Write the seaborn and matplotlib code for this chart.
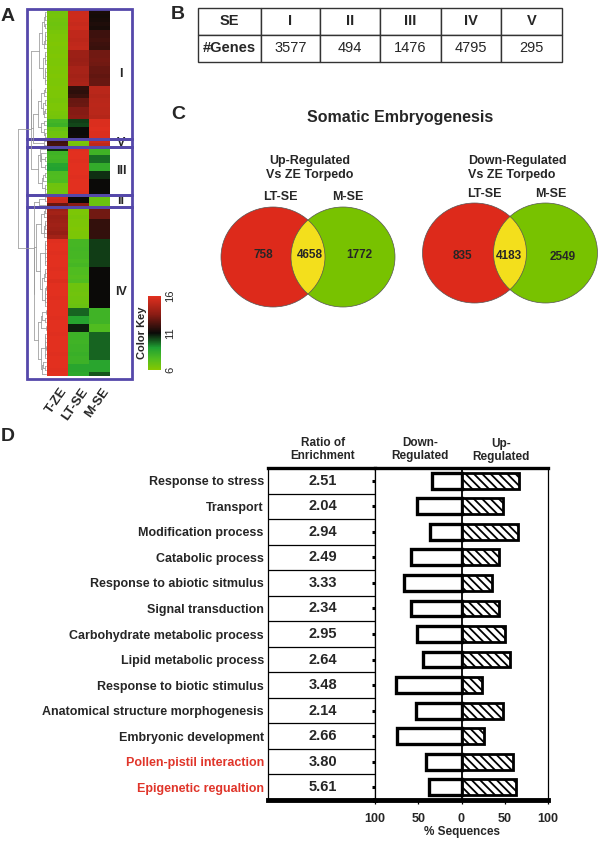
import numpy as np
import pandas as pd
import matplotlib
matplotlib.use("Agg")
import matplotlib.pyplot as plt
import seaborn as sns
from matplotlib.colors import LinearSegmentedColormap
from matplotlib.patches import Rectangle, Ellipse

sns.set_style("white")
plt.rcParams["font.family"] = ["Liberation Sans", "DejaVu Sans"]
plt.rcParams["hatch.linewidth"] = 1.3

# ---------------- Panel A data ----------------
samples = ["T-ZE", "LT-SE", "M-SE"]
cluster_names = ["I", "V", "III", "II", "IV"]
cluster_sizes = [32, 2, 12, 3, 42]
tze = [6.6, 6.5, 6.6, 6.7, 6.6, 6.4, 6.3, 6.3, 6.2, 6.3,
       6.3, 6.2, 6.3, 6.3, 6.2, 6.3, 6.2, 6.3, 6.3, 6.2,
       6.3, 6.3, 6.4, 6.3, 6.3, 6.4, 6.5, 7.9, 8.1, 6.9,
       6.7, 6.6,
       12.0, 12.2,
       10.5, 8.0, 7.9, 8.0, 8.8, 8.9, 7.6, 7.5, 7.6, 6.7, 6.6, 6.6,
       15.5, 15.3, 12.8,
       14.0, 14.2, 13.9, 14.0, 14.1, 14.0, 13.8, 14.2, 15.9, 16.0,
       16.0, 15.9, 16.0, 16.0, 16.0, 15.9, 16.0, 16.0, 15.8, 16.0,
       16.0, 16.0, 15.9, 16.0, 16.0, 16.0, 16.0, 15.9, 16.0, 16.0,
       16.0, 15.9, 16.0, 16.0, 16.0, 16.0, 15.9, 16.0, 16.0, 16.0,
       15.9, 16.0]
ltse = [15.3, 15.4, 15.3, 15.2, 15.3, 15.0, 15.0, 14.9, 15.0, 15.1,
        14.0, 14.0, 13.9, 14.0, 14.3, 14.3, 14.2, 14.3, 14.4, 11.8,
        11.7, 11.9, 12.8, 12.9, 13.4, 13.4, 13.5, 10.3, 10.2, 11.0,
        11.0, 11.1,
        6.3, 6.5,
        15.9, 16.0, 16.0, 15.9, 16.0, 16.0, 16.0, 15.9, 16.0, 16.0, 16.0, 15.9,
        11.0, 11.0, 13.5,
        6.3, 6.3, 6.4, 6.3, 6.3, 6.2, 6.3, 6.3, 7.8, 7.8,
        7.9, 7.8, 7.8, 7.7, 7.8, 7.5, 7.5, 7.4, 7.5, 6.7,
        6.7, 6.6, 6.7, 6.7, 6.8, 9.8, 9.8, 8.8, 8.8, 10.7,
        10.7, 8.1, 8.1, 8.0, 8.1, 8.1, 8.2, 8.1, 8.1, 8.7,
        8.7, 8.6]
mse = [11.3, 11.2, 11.3, 11.4, 11.3, 12.0, 12.0, 12.1, 12.0, 11.9,
       13.0, 13.0, 13.1, 13.0, 12.8, 12.8, 12.7, 12.8, 12.8, 14.8,
       14.8, 14.7, 14.8, 14.9, 14.8, 14.8, 14.7, 15.8, 15.8, 15.9,
       15.8, 15.8,
       15.3, 15.0,
       8.0, 8.0, 9.7, 9.7, 8.4, 8.4, 10.5, 10.5, 11.0, 11.0, 11.0, 11.0,
       6.8, 6.8, 6.8,
       13.0, 13.0, 13.0, 11.8, 11.8, 11.8, 11.8, 11.8, 10.3, 10.3,
       10.3, 10.3, 10.3, 10.3, 10.3, 11.0, 11.0, 11.0, 11.0, 11.0,
       11.0, 11.0, 11.0, 11.0, 11.0, 8.0, 8.0, 8.0, 8.0, 7.5,
       7.5, 9.8, 9.8, 9.8, 9.8, 9.8, 9.8, 9.8, 8.7, 8.7,
       8.7, 10.0]
color_key_ticks = [16, 11, 6]

# ---------------- Panel B data ----------------
table_header = ["SE", "I", "II", "III", "IV", "V"]
table_genes = ["#Genes", "3577", "494", "1476", "4795", "295"]

# ---------------- Panel C data ----------------
venn_title = "Somatic Embryogenesis"
venn_subtitles = ["Up-Regulated\nVs ZE Torpedo", "Down-Regulated\nVs ZE Torpedo"]
venn_sets = ["LT-SE", "M-SE"]
venn_only_lt = [758, 835]
venn_shared = [4658, 4183]
venn_only_m = [1772, 2549]

# ---------------- Panel D data ----------------
categories = ["Response to stress", "Transport", "Modification process",
              "Catabolic process", "Response to abiotic sitmulus",
              "Signal transduction", "Carbohydrate metabolic process",
              "Lipid metabolic process", "Response to biotic stimulus",
              "Anatomical structure morphogenesis", "Embryonic development",
              "Pollen-pistil interaction", "Epigenetic regualtion"]
ratios = [2.51, 2.04, 2.94, 2.49, 3.33, 2.34, 2.95, 2.64, 3.48, 2.14, 2.66, 3.80, 5.61]
down_pct = [34, 52, 36, 58, 66, 58, 51, 44, 76, 53, 75, 41, 38]
up_pct = [67, 48, 65, 43, 35, 43, 50, 56, 24, 48, 26, 60, 63]
highlight = ["Pollen-pistil interaction", "Epigenetic regualtion"]
x_ticks = [-100, -50, 0, 50, 100]
x_ticklabels = ["100", "50", "0", "50", "100"]

# ---------------- figure ----------------
W, H = 600, 841
fig = plt.figure(figsize=(W / 100, H / 100), dpi=100)


def px(x0, y0, x1, y1):
    return [x0 / W, 1 - y1 / H, (x1 - x0) / W, (y1 - y0) / H]


BOX = "#5548aa"
RED = "#dd2a1b"
GREEN = "#78c200"
YELLOW = "#f3df1c"

# ---- Panel A heatmap ----
cmap = LinearSegmentedColormap.from_list(
    "gk", [(0, "#86c800"), (0.15, "#50bc20"), (0.3, "#1fa032"),
           (0.5, "#0a0a08"), (0.75, "#8a1c14"), (1, "#e2301f")])
df = pd.DataFrame({samples[0]: tze, samples[1]: ltse, samples[2]: mse})
N = len(df)
top_px, bot_px = 10, 376
rowh = (bot_px - top_px) / N

ax_h = fig.add_axes(px(27, top_px, 132, bot_px))
cax = fig.add_axes(px(148, 296, 161, 370))
sns.heatmap(df, ax=ax_h, cmap=cmap, vmin=6, vmax=16, cbar_ax=cax,
            xticklabels=False, yticklabels=False)
colw = 21.0
xl0 = -(47 - 27) / colw
xl1 = 3 + (132 - 110) / colw
ax_h.set_xlim(xl0, xl1)
ax_h.set_ylim(N, 0)
for s in ax_h.spines.values():
    s.set_visible(False)
ax_h.set_xlabel("")
ax_h.set_ylabel("")
cbar = ax_h.collections[0].colorbar
cbar.outline.set_visible(False)
cbar.set_ticks([])

bounds = np.cumsum([0] + cluster_sizes)
for i, name in enumerate(cluster_names):
    y0 = bounds[i]
    y1 = bounds[i + 1]
    if i == 0:
        y0 = y0 - 1.0 / rowh
    if i == len(cluster_names) - 1:
        y1 = y1 + 3.0 / rowh
    ax_h.add_patch(Rectangle((xl0, y0), xl1 - xl0, y1 - y0, fill=False,
                             edgecolor=BOX, lw=2.0, clip_on=False, zorder=5))
    ax_h.text(xl0 + (121 - 27) / colw, (bounds[i] + bounds[i + 1]) / 2, name,
              ha="center", va="center", fontsize=9, fontweight="bold")

# overlay axes in pixel coords
ov = fig.add_axes([0, 0, 1, 1])
ov.set_xlim(0, W)
ov.set_ylim(H, 0)
ov.axis("off")
ov.set_facecolor("none")

# dendrogram (sequential Ward-like merging of adjacent rows)
M = df.values.astype(float)
clus = [dict(c=k + 0.5, h=0.0, v=M[k].copy(), n=1) for k in range(N)]
segs = []
while len(clus) > 1:
    d = []
    for i in range(len(clus) - 1):
        a, b = clus[i], clus[i + 1]
        d.append(np.linalg.norm(a["v"] - b["v"]) * np.sqrt(a["n"] * b["n"] / (a["n"] + b["n"])))
    i = int(np.argmin(d))
    a, b = clus[i], clus[i + 1]
    h = max(d[i], a["h"], b["h"]) + 1e-6
    segs.append((a["h"], h, a["c"], b["c"], b["h"]))
    clus[i:i + 2] = [dict(c=(a["c"] + b["c"]) / 2, h=h,
                          v=(a["v"] * a["n"] + b["v"] * b["n"]) / (a["n"] + b["n"]),
                          n=a["n"] + b["n"])]
hmax = max(s[1] for s in segs)


def xmap(hv):
    return 46 - 28 * (hv / hmax) ** 0.5


def ymap(c):
    return top_px + rowh * c


DC = "#999999"
for ha_, h, ca, cb, hb in segs:
    ov.plot([xmap(ha_), xmap(h)], [ymap(ca), ymap(ca)], color=DC, lw=0.55)
    ov.plot([xmap(hb), xmap(h)], [ymap(cb), ymap(cb)], color=DC, lw=0.55)
    ov.plot([xmap(h), xmap(h)], [ymap(ca), ymap(cb)], color=DC, lw=0.55)

# sample labels
for j, s in enumerate(samples):
    ov.text(47 + colw * (j + 1) - 3, 389, s, rotation=55, ha="right", va="center",
            rotation_mode="anchor", fontsize=9.5, fontweight="bold")

# color key labels
for t in color_key_ticks:
    ov.text(170, 370 - (t - 6) / 10 * 74, str(t), rotation=90, ha="center",
            va="center", fontsize=8)
ov.text(142, 333, "Color Key", rotation=90, ha="center", va="center",
        fontsize=8, fontweight="bold")

# panel letters
for lab, (x, y) in zip("ABCD", [(1, 20.5), (171, 19), (171, 118.5), (1, 440.5)]):
    ov.text(x, y, lab, fontsize=14, fontweight="bold", va="baseline", ha="left")

# ---- Panel B table ----
ax_t = fig.add_axes(px(198, 8, 562, 62))
ax_t.axis("off")
colw_t = np.array([63, 59, 60, 61, 60, 61], dtype=float)
tbl = ax_t.table(cellText=[table_header, table_genes], colWidths=list(colw_t / colw_t.sum()),
                 cellLoc="center", bbox=[0, 0, 1, 1])
tbl.auto_set_font_size(False)
tbl.set_fontsize(10.5)
for (r, c), cell in tbl.get_celld().items():
    cell.set_linewidth(1.0)
    cell.set_edgecolor("#333333")
    if r == 0 or c == 0:
        cell.get_text().set_fontweight("bold")

# ---- Panel C venn ----
ax_v = fig.add_axes(px(200, 100, 600, 320))
ax_v.set_xlim(200, 600)
ax_v.set_ylim(320, 100)
ax_v.axis("off")
ax_v.text(400, 117, venn_title, ha="center", va="center", fontsize=11.5, fontweight="bold")
venn_geo = [dict(cr=(273, 257), cg=(343, 257), sub=(310, 168), ha="center", subx=310,
                 lt=(280, 197), m=(347.5, 197), nums=[(263, 255), (309.5, 255), (359, 255)]),
            dict(cr=(474.5, 253), cg=(545.5, 253), sub=(468, 168), ha="left", subx=468,
                 lt=(484, 194), m=(551, 194), nums=[(462, 256), (509, 256), (563, 257)])]
for i, g in enumerate(venn_geo):
    red = Ellipse(g["cr"], 104, 100, facecolor=RED, edgecolor="none")
    grn = Ellipse(g["cg"], 104, 100, facecolor=GREEN, edgecolor="none")
    ax_v.add_patch(red)
    ax_v.add_patch(grn)
    yel = Ellipse(g["cg"], 104, 100, facecolor=YELLOW, edgecolor="none")
    ax_v.add_patch(yel)
    yel.set_clip_path(red)
    ax_v.add_patch(Ellipse(g["cr"], 104, 100, fill=False, edgecolor="#555555", lw=0.5))
    ax_v.add_patch(Ellipse(g["cg"], 104, 100, fill=False, edgecolor="#555555", lw=0.5))
    ax_v.text(g["subx"], g["sub"][1], venn_subtitles[i], ha=g["ha"], va="center",
              fontsize=9, fontweight="bold", multialignment=g["ha"], linespacing=1.25)
    ax_v.text(*g["lt"], venn_sets[0], ha="center", va="center", fontsize=9, fontweight="bold")
    ax_v.text(*g["m"], venn_sets[1], ha="center", va="center", fontsize=9, fontweight="bold")
    for (x, y), v in zip(g["nums"], [venn_only_lt[i], venn_shared[i], venn_only_m[i]]):
        ax_v.text(x, y, str(v), ha="center", va="center", fontsize=8.5, fontweight="bold")

# ---- Panel D ----
nrow = len(categories)
ax_r = fig.add_axes(px(268, 468, 375, 800))
ax_b = fig.add_axes(px(375, 468, 548, 800))

ax_r.set_xlim(0, 1)
ax_r.set_ylim(nrow - 0.5, -0.5)
for k in range(nrow - 1):
    ax_r.axhline(k + 0.5, color="black", lw=0.9)
for k, r in enumerate(ratios):
    ax_r.text(0.514, k, f"{r:.2f}", ha="center", va="center", fontsize=10.5, fontweight="bold")
ax_r.set_yticks(range(nrow))
ax_r.set_yticklabels(categories, fontsize=9, fontweight="bold")
ax_r.set_xticks([])
ax_r.tick_params(axis="y", length=0, pad=3)
for lbl in ax_r.get_yticklabels():
    if lbl.get_text() in highlight:
        lbl.set_color("#e0352a")
for side, lw in [("left", 0.9), ("right", 0.9), ("top", 2.4), ("bottom", 3.5)]:
    ax_r.spines[side].set_visible(True)
    ax_r.spines[side].set_linewidth(lw)
    ax_r.spines[side].set_color("black")

dfd = pd.DataFrame({"category": categories,
                    "down": [-v for v in down_pct],
                    "up": up_pct})
sns.barplot(data=dfd, x="down", y="category", orient="h", color="white", saturation=1,
            edgecolor="black", linewidth=2.4, width=0.62, errorbar=None, ax=ax_b)
sns.barplot(data=dfd, x="up", y="category", orient="h", color="white", saturation=1,
            edgecolor="black", linewidth=2.0, width=0.62, errorbar=None,
            hatch="\\\\\\\\", ax=ax_b)
ax_b.axvline(0, color="black", lw=1.3, zorder=5)
ax_b.set_xlim(-100, 100)
ax_b.set_ylim(nrow - 0.5, -0.5)
ax_b.set_yticks(range(nrow))
ax_b.set_yticklabels([])
ax_b.set_ylabel("")
ax_b.set_xticks(x_ticks)
ax_b.set_xticklabels(x_ticklabels, fontsize=9, fontweight="bold")
ax_b.tick_params(axis="y", left=True, length=2.5, width=2.2, direction="out", color="black")
ax_b.tick_params(axis="x", bottom=True, length=3, width=0.9, direction="out", pad=6, color="black")
ax_b.set_xlabel("% Sequences", fontsize=8.5, fontweight="bold", labelpad=1)
for side, lw in [("left", 0.9), ("right", 0.9), ("top", 2.4), ("bottom", 3.5)]:
    ax_b.spines[side].set_visible(True)
    ax_b.spines[side].set_linewidth(lw)
    ax_b.spines[side].set_color("black")

# headers
ov.text(323, 449.5, "Ratio of\nEnrichment", ha="center", va="center", fontsize=8.5,
        fontweight="bold", linespacing=1.2)
ov.text(420, 449.5, "Down-\nRegulated", ha="center", va="center", fontsize=8.5,
        fontweight="bold", linespacing=1.2)
ov.text(501, 450.5, "Up-\nRegulated", ha="center", va="center", fontsize=8.5,
        fontweight="bold", linespacing=1.2)

fig.savefig("out.png", dpi=100)
